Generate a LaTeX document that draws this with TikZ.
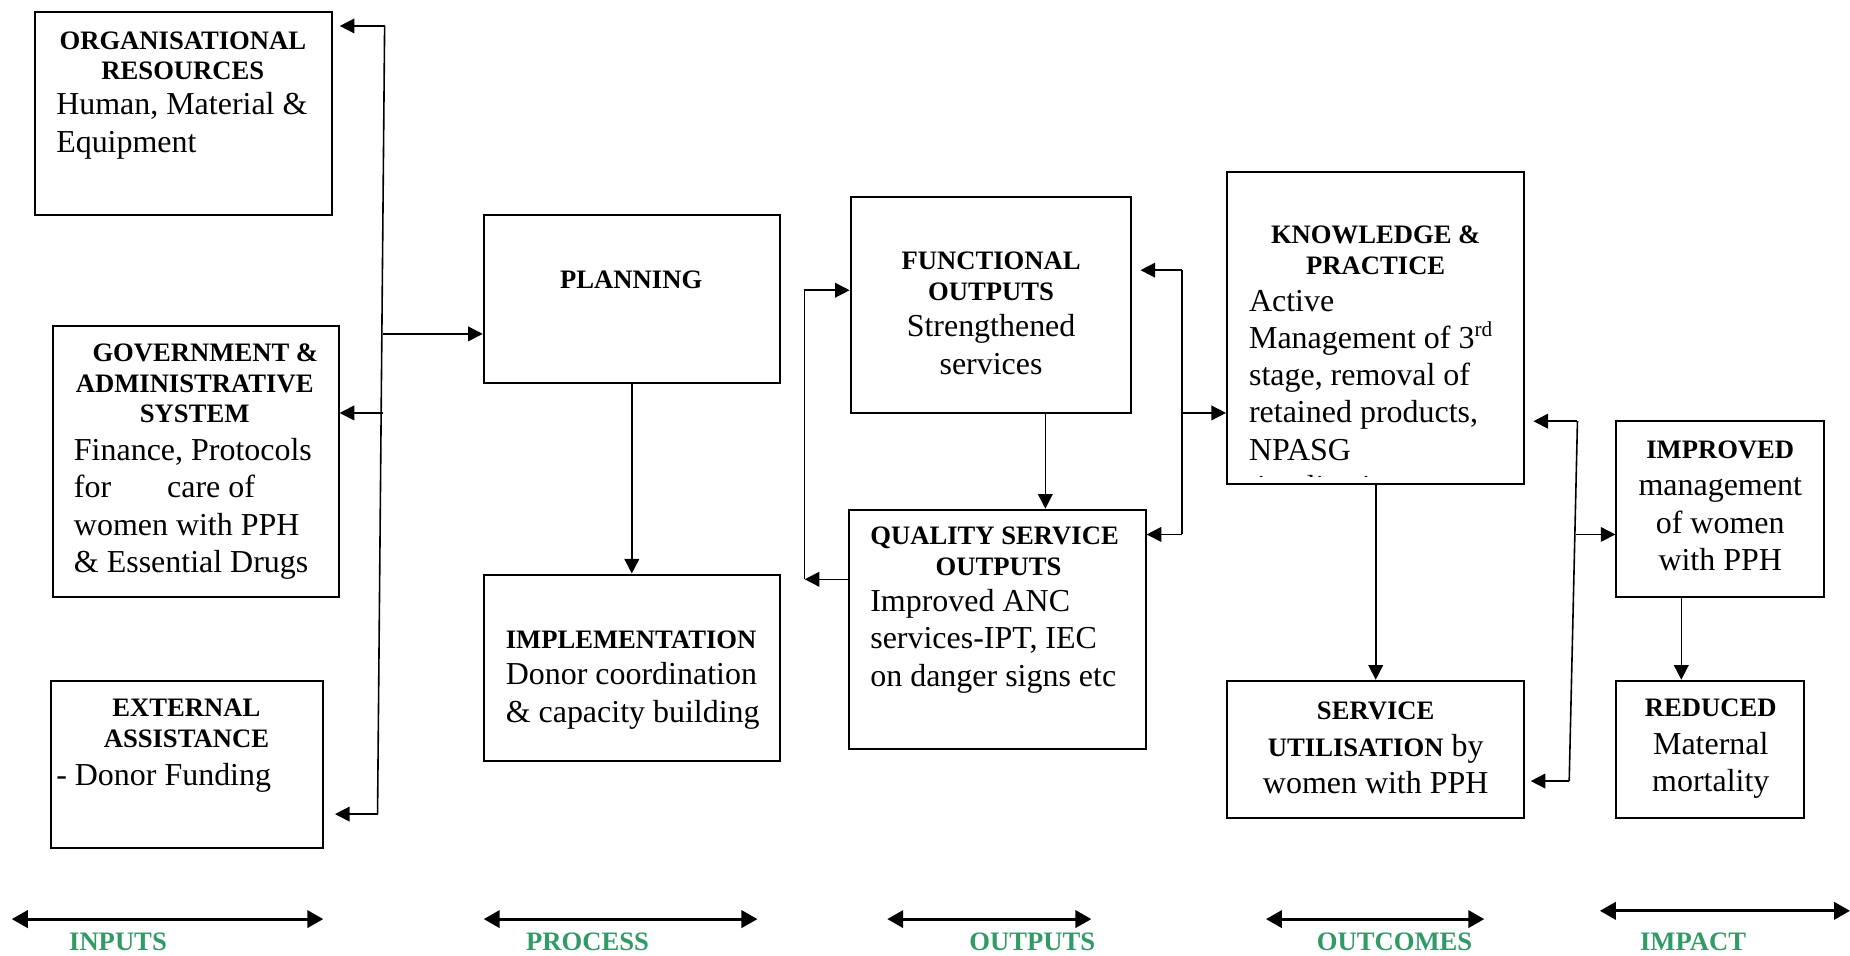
\documentclass[tikz,border=0pt]{standalone}
\usepackage{fontspec}
\setmainfont{Liberation Serif}
\usetikzlibrary{arrows.meta, fit}
\definecolor{sea}{RGB}{51, 153, 102}
\newcommand{\headword}[1]{{\fontsize{10}{11.4}\selectfont\bfseries #1}}

\begin{document}
\begin{tikzpicture}[x=0.443pt, y=-0.443pt, line width=0.6pt,
  >={Triangle[length=5.5pt, width=5.5pt]},
  box/.style={draw, line width=0.75pt, inner sep=0pt},
  head/.style={font=\fontsize{10}{11.4}\selectfont\bfseries, align=center, inner sep=0pt, anchor=north},
  body/.style={font=\fontsize{12}{14}\selectfont, align=left, inner sep=0pt, anchor=north west},
  span/.style={{Triangle[length=6pt, width=6.5pt]}-{Triangle[length=6pt, width=6.5pt]}, line width=1.1pt},
  phaselabel/.style={font=\fontsize{10}{12}\selectfont\bfseries, color=sea, inner sep=0pt}]

\useasboundingbox (0,0) rectangle (1568,810);

% boxes
\node[box, fit={(30,10) (281,182)}] (org) {};
\node[box, fit={(45,276) (287,506)}] (gov) {};
\node[box, fit={(43,577) (274,719)}] (ext) {};
\node[box, fit={(410,182) (661,325)}] (plan) {};
\node[box, fit={(410,487) (661,645)}] (impl) {};
\node[box, fit={(721,167) (959,350)}] (func) {};
\node[box, fit={(720,432) (971,635)}] (qual) {};
\node[box, fit={(1040,146) (1292,410)}] (know) {};
\node[box, fit={(1040,577) (1292,693)}] (serv) {};
\node[box, fit={(1370,357) (1546,506)}] (impr) {};
\node[box, fit={(1370,577) (1529,693)}] (redu) {};

% inputs
\node[head] (orghead) at (155,26) {ORGANISATIONAL\\RESOURCES};
\node[body] (orgbody) at (47,78) {Human, Material \&\\Equipment};

\node[head] (govhead) at (165,291) {\hspace*{8pt}GOVERNMENT \&\\ADMINISTRATIVE\\SYSTEM};
\node[body] (govbody) at (62,371) {Finance, Protocols\\for\hspace{18pt} care of\\women with PPH\\\& Essential Drugs};

\node[head] (exthead) at (158,592) {EXTERNAL\\ASSISTANCE};
\node[body] (extbody) at (47,646) {- Donor Funding};

% process
\node[head] (planhead) at (535,229) {PLANNING};

\node[head, anchor=north west] (implhead) at (428,534) {IMPLEMENTATION};
\node[body] (implbody) at (428,561) {Donor coordination\\\& capacity building};

% outputs
\node[head] (funchead) at (840,213) {FUNCTIONAL\\OUTPUTS};
\node[body, anchor=north, align=center] (funcbody) at (840,266) {Strengthened\\services};

\node[head] (qualhead) at (843,446) {QUALITY SERVICE\\\hspace*{3pt}OUTPUTS};
\node[body] (qualbody) at (737,499) {Improved ANC\\services-IPT, IEC\\on danger signs etc};

% outcomes
\node[head] (knowhead) at (1166,191) {KNOWLEDGE \&\\PRACTICE};
\begin{scope}
\clip (1040,146) rectangle (1292,404);
\node[body] (knowbody) at (1058,245) {Active\\Management of 3\textsuperscript{rd}\\stage, removal of\\retained products,\\NPASG\\\hspace*{3pt}implications};
\end{scope}

\node[body, anchor=north, align=center] (servtxt) at (1166,594) {\headword{SERVICE}\\\headword{UTILISATION} by\\women with PPH};

% impact
\node[body, anchor=north, align=center] (imprtxt) at (1458,373) {\headword{IMPROVED}\\management\\of women\\with PPH};
\node[body, anchor=north, align=center] (redutxt) at (1450,592) {\headword{REDUCED}\\Maternal\\mortality};

% connectors
\coordinate (inbustop) at (326,22);
\coordinate (inbusbot) at (320,690);
\coordinate (inbusgov) at (325,350);
\coordinate (inbusplan) at (325,283);
\draw (inbustop) -- (inbusbot);
\draw[->, shorten >=2.7pt] (inbustop) -- (org.east |- inbustop);
\draw[->] (inbusgov) -- (gov.east |- inbusgov);
\draw[->, shorten >=4pt] (inbusbot) -- (ext.east |- inbusbot);
\draw[->] (inbusplan) -- (plan.west |- inbusplan);

\draw[->] (plan.south) -- (impl.north);

\coordinate (loopbot) at (682,491);
\coordinate (looptop) at (682,246);
\draw[->] (qual.west |- loopbot) -- (loopbot);
\draw[->] (loopbot) -- (looptop) -- (func.west |- looptop);
\coordinate (fqdrop) at (886,0);
\draw[->] (func.south -| fqdrop) -- (qual.north -| fqdrop);

\coordinate (obustop) at (1002,229);
\coordinate (obusbot) at (1002,453);
\coordinate (obusknow) at (1002,350);
\draw (obustop) -- (obusbot);
\draw[->, shorten >=3pt] (obustop) -- (func.east |- obustop);
\draw[->] (obusbot) -- (qual.east |- obusbot);
\draw[->] (obusknow) -- (know.west |- obusknow);

\draw[->] (know.south) -- (serv.north);

\coordinate (rbustop) at (1337,357);
\coordinate (rbusbot) at (1330,662);
\coordinate (rbusimpr) at (1336,453);
\draw (rbustop) -- (rbusbot);
\draw[->, shorten >=3pt] (rbustop) -- (know.east |- rbustop);
\draw[->, shorten >=2pt] (rbusbot) -- (serv.east |- rbusbot);
\draw[->] (rbusimpr) -- (impr.west |- rbusimpr);
\coordinate (irdrop) at (1425,0);
\draw[->] (impr.south -| irdrop) -- (redu.north -| irdrop);

% phases
\coordinate (inputsL) at (10,779);
\coordinate (inputsR) at (274,779);
\draw[span] (inputsL) -- (inputsR);
\node[phaselabel] (inputs) at (100,798) {INPUTS};

\coordinate (processL) at (410,779);
\coordinate (processR) at (642,779);
\draw[span] (processL) -- (processR);
\node[phaselabel] (process) at (498,798) {PROCESS};

\coordinate (outputsL) at (752,779);
\coordinate (outputsR) at (925,779);
\draw[span] (outputsL) -- (outputsR);
\node[phaselabel] (outputs) at (875,798) {OUTPUTS};

\coordinate (outcomesL) at (1073,779);
\coordinate (outcomesR) at (1258,779);
\draw[span] (outcomesL) -- (outcomesR);
\node[phaselabel] (outcomes) at (1182,798) {OUTCOMES};

\coordinate (impactL) at (1356,772);
\coordinate (impactR) at (1568,772);
\draw[span] (impactL) -- (impactR);
\node[phaselabel] (impact) at (1435,798) {IMPACT};

\end{tikzpicture}
\end{document}
